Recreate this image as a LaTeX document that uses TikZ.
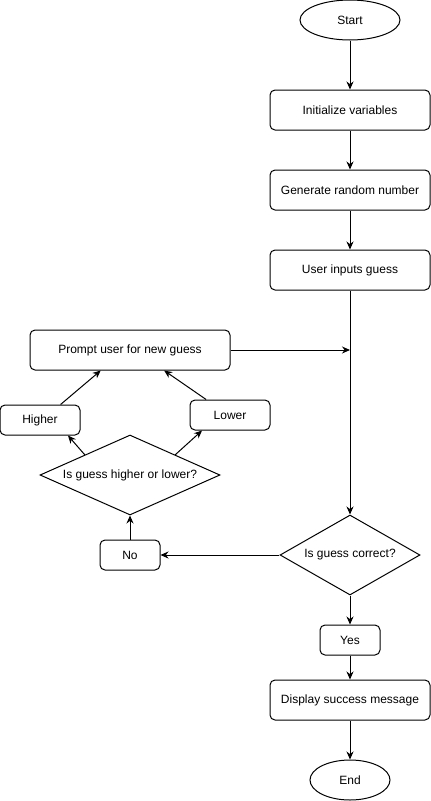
\documentclass[tikz,border=0pt]{standalone}
\usepackage{fontspec}
\setmainfont{Liberation Sans}
\usetikzlibrary{arrows.meta,shapes.geometric}

\begin{document}
\begin{tikzpicture}[x=1pt,y=-1pt]

\tikzset{process/.style = {shape=rectangle,draw,rounded corners=5pt,minimum width=160pt,minimum height=40pt,inner sep=0pt}}
\tikzset{small/.style = {process,minimum width=80pt,minimum height=30pt}}
\tikzset{decision/.style = {shape=diamond,draw,aspect=2,inner sep=0pt}}
\tikzset{terminal/.style = {shape=ellipse,draw,minimum width=100pt,minimum height=40pt,inner sep=0pt}}
\tikzset{edge/.style = {-{Stealth[length=8pt,width=7pt]}}}
\tikzset{every node/.style = {font=\fontsize{12}{14}\selectfont}}
\useasboundingbox (0,0) rectangle (431,801);
\begin{scope}[line width=1pt]
% vertices
\node[terminal] (start) at (350,20) {Start};
\node[process] (init) at (350,110) {Initialize variables};
\node[process] (gen) at (350,190) {Generate random number};
\node[process] (input) at (350,270) {User inputs guess};
\node[process,minimum width=200pt] (prompt) at (130,350) {Prompt user for new guess};
\node[small] (higher) at (40,420) {Higher};
\node[small] (lower) at (230,415) {Lower};
\node[decision,minimum width=180pt,minimum height=80pt] (hl) at (130,475) {Is guess higher or lower?};
\node[small,minimum width=60pt] (no) at (130,555) {No};
\node[decision,minimum width=140pt,minimum height=80pt] (correct) at (350,555) {Is guess correct?};
\node[small,minimum width=60pt] (yes) at (350,640) {Yes};
\node[process] (msg) at (350,700) {Display success message};
\node[terminal,minimum width=80pt] (stop) at (350,780) {End};
\coordinate (join) at (350,350);
%edges
\draw[edge] (start) to (init);
\draw[edge] (init) to (gen);
\draw[edge] (gen) to (input);
\draw[edge] (input) to (correct);
\draw[edge] (prompt) to (join);
\draw[edge] (correct) to (no);
\draw[edge] (no) to (hl);
\draw[edge] (hl.north west) to (higher.-29);
\draw[edge] (hl.north east) to (lower.209);
\draw[edge] (higher.37) to (prompt.215);
\draw[edge] (lower.147) to (prompt.-31);
\draw[edge] (correct) to (yes);
\draw[edge] (yes) to (msg);
\draw[edge] (msg) to (stop);
\end{scope}
\end{tikzpicture}
\end{document}
